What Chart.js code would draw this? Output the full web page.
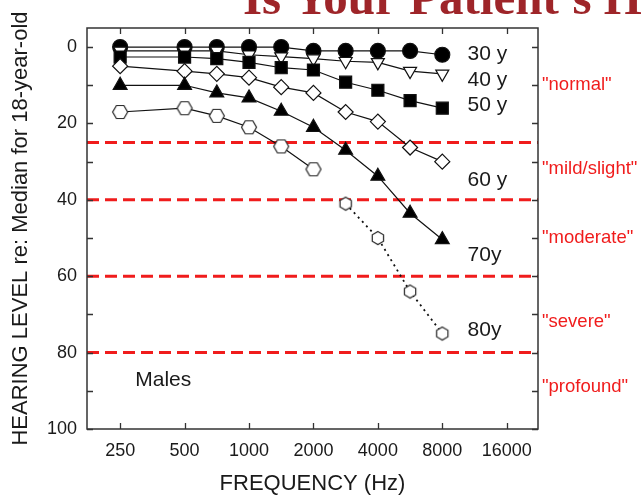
<!DOCTYPE html>
<html>
<head>
<meta charset="utf-8">
<title>Hearing level by age</title>
<script src="https://cdn.jsdelivr.net/npm/chart.js@4.4.1/dist/chart.umd.min.js"></script>
<style>
    html, body { margin: 0; padding: 0; background: #fff; }
    #divGraphHearing { width: 641px; height: 497px; }
</style>
</head>
<body>
<div id="divGraphHearing"><canvas id="canvGraphHearing" width="641" height="497"></canvas></div>
<script>
// frequencies (Hz) where the medians are plotted, and the axis tick labels
var freqs = [250, 500, 707, 1000, 1414, 2000, 2828, 4000, 5657, 8000];
var freqTicks = [250, 500, 1000, 2000, 4000, 8000, 16000];
var levelTicks = [0, 20, 40, 60, 80, 100];
var levelMarks = [0, 10, 20, 30, 40, 50, 60, 70, 80, 90, 100];

// hearing level (dB) re: median for 18-year-old, males
var hl30 = [0, 0, 0, 0, 0, 1, 1, 1, 1, 2];
var hl40 = [1, 1, 1, 2, 2.5, 3, 3.7, 4, 6.3, 7];
var hl50 = [2.6, 2.6, 3, 4, 5.4, 6, 9.2, 11.3, 14, 16];
var hl60 = [5, 6.3, 7, 8, 10.5, 12, 17, 19.5, 26.3, 30];
var hl70 = [10, 10, 12, 13.3, 16.8, 21, 27, 33.8, 43.5, 50.4];
var hl80 = [17, 16, 18, 21, 26, 32, 41, 50, 64, 75];

var ageLabels = ['30 y', '40 y', '50 y', '60 y', '70y', '80y'];
var ageLabelLevels = [1.8, 8.6, 15.2, 34.8, 54.5, 74];

var limitLevels = [25, 40, 60, 80];
var gradeNames = ['"normal"', '"mild/slight"', '"moderate"', '"severe"', '"profound"'];
var gradeLevels = [10, 32, 50, 72, 89];

var SANS = '"Liberation Sans", Arial, Helvetica, sans-serif';
var INK = '#1a1a1a';
var RED = '#f01c1c';
var X_MIN = 175, X_MAX = 22400;

var _chart;

function toPoints(values) {
    var pts = [];
    for (var i = 0; i < freqs.length; i++) {
        pts.push({x: freqs[i], y: values[i]});
    }
    return pts;
}

function makeHexagon(r, pointyTop) {
    var c = document.createElement('canvas');
    var s = Math.ceil(r * 2 + 3);
    c.width = s;
    c.height = s;
    var g = c.getContext('2d');
    g.beginPath();
    for (var i = 0; i < 6; i++) {
        var a = Math.PI / 3 * i + (pointyTop ? -Math.PI / 2 : 0);
        var px = s / 2 + r * Math.cos(a), py = s / 2 + r * Math.sin(a);
        if (i === 0) g.moveTo(px, py); else g.lineTo(px, py);
    }
    g.closePath();
    g.fillStyle = '#fff';
    g.fill();
    g.lineWidth = 1.2;
    g.strokeStyle = '#222';
    g.stroke();
    return c;
}

function series(label, values, style, radius, filled, rotation, order) {
    return {
        label: label,
        data: toPoints(values),
        borderColor: '#111',
        borderWidth: 1.2,
        pointStyle: style,
        pointRadius: radius,
        pointRotation: rotation,
        pointBackgroundColor: filled ? '#000' : '#fff',
        pointBorderColor: '#111',
        pointBorderWidth: 1.2,
        order: order
    };
}

function limitLine(level) {
    return {
        label: 'limit ' + level,
        data: [{x: X_MIN, y: level}, {x: X_MAX, y: level}],
        borderColor: RED,
        borderWidth: 3,
        borderDash: [12, 6],
        pointRadius: 0,
        order: 10
    };
}

var frameAndTextPlugin = {
    id: 'frameAndText',
    afterDraw: function (chart) {
        var ctx = chart.ctx, area = chart.chartArea;
        var xs = chart.scales.x, ys = chart.scales.y;
        ctx.save();

        // box + inward ticks
        ctx.strokeStyle = '#333';
        ctx.lineWidth = 1.5;
        ctx.strokeRect(area.left, area.top, area.right - area.left, area.bottom - area.top);
        ctx.lineWidth = 1.3;
        ctx.beginPath();
        freqTicks.forEach(function (f) {
            var px = Math.round(xs.getPixelForValue(f)) + 0.5;
            ctx.moveTo(px, area.bottom);
            ctx.lineTo(px, area.bottom - 6);
            ctx.moveTo(px, area.top);
            ctx.lineTo(px, area.top + 6);
        });
        levelMarks.forEach(function (v) {
            var py = Math.round(ys.getPixelForValue(v)) + 0.5;
            ctx.moveTo(area.left, py);
            ctx.lineTo(area.left + 6, py);
            ctx.moveTo(area.right, py);
            ctx.lineTo(area.right - 6, py);
        });
        ctx.stroke();

        // age labels and "Males"
        ctx.fillStyle = INK;
        ctx.textAlign = 'left';
        ctx.textBaseline = 'middle';
        ctx.font = '21px ' + SANS;
        ageLabels.forEach(function (t, i) {
            ctx.fillText(t, xs.getPixelForValue(10500), ys.getPixelForValue(ageLabelLevels[i]));
        });
        ctx.fillText('Males', xs.getPixelForValue(294), ys.getPixelForValue(87.2));

        // grade names on the right
        ctx.fillStyle = RED;
        ctx.font = '18.5px ' + SANS;
        gradeNames.forEach(function (t, i) {
            ctx.fillText(t, area.right + 4, ys.getPixelForValue(gradeLevels[i]));
        });

        // slide title, cut by the top edge
        ctx.fillStyle = '#9e2529';
        ctx.textBaseline = 'alphabetic';
        ctx.font = 'bold 49px "Liberation Serif", "Times New Roman", serif';
        ctx.fillText("Is Your Patient's H", 243, 14);

        ctx.restore();
    }
};

function buildChartHearing() {
    var datasets = [];
    limitLevels.forEach(function (lv) { datasets.push(limitLine(lv)); });

    datasets.push(series('30 y', hl30, 'circle', 7.5, true, 0, 6));
    datasets.push(series('40 y', hl40, 'triangle', 7.5, false, 180, 5));
    datasets.push(series('50 y', hl50, 'rect', 8.5, true, 0, 4));
    datasets.push(series('60 y', hl60, 'rectRot', 7.5, false, 0, 3));
    datasets.push(series('70y', hl70, 'triangle', 8, true, 0, 2));

    var hexFlat = makeHexagon(7.5, false), hexPointy = makeHexagon(6.5, true);
    var s80 = series('80y', hl80, 'circle', 7, false, 0, 1);
    s80.pointStyle = freqs.map(function (f, i) { return i <= 5 ? hexFlat : hexPointy; });
    s80.segment = {
        borderColor: function (c) { return c.p0DataIndex === 5 ? 'rgba(0,0,0,0)' : undefined; },
        borderDash: function (c) { return c.p0DataIndex >= 6 ? [2, 4] : undefined; },
        borderWidth: function (c) { return c.p0DataIndex >= 6 ? 1.8 : undefined; }
    };
    datasets.push(s80);

    var ctxHearing = document.getElementById('canvGraphHearing').getContext('2d');

    _chart = new Chart(ctxHearing, {
        type: 'line',
        data: {datasets: datasets},
        options: {
            responsive: false,
            animation: false,
            devicePixelRatio: 1,
            layout: {padding: {left: 0, top: 28, right: 103, bottom: 0}},
            plugins: {legend: {display: false}, tooltip: {enabled: false}},
            scales: {
                x: {
                    type: 'logarithmic',
                    min: X_MIN,
                    max: X_MAX,
                    afterBuildTicks: function (scale) {
                        scale.ticks = freqTicks.map(function (f) { return {value: f}; });
                    },
                    afterFit: function (scale) { scale.height = 68; },
                    grid: {display: false, drawTicks: false},
                    border: {display: false},
                    ticks: {
                        autoSkip: false,
                        maxRotation: 0,
                        padding: 11,
                        color: INK,
                        font: {family: SANS, size: 18},
                        callback: function (v) { return String(v); }
                    },
                    title: {
                        display: true,
                        text: 'FREQUENCY (Hz)',
                        color: INK,
                        font: {family: SANS, size: 22},
                        padding: {top: 0, bottom: 0}
                    }
                },
                y: {
                    type: 'linear',
                    reverse: true,
                    min: -5,
                    max: 100,
                    afterBuildTicks: function (scale) {
                        scale.ticks = levelTicks.map(function (v) { return {value: v}; });
                    },
                    afterFit: function (scale) { scale.width = 87; },
                    grid: {display: false, drawTicks: false},
                    border: {display: false},
                    ticks: {
                        padding: 10,
                        color: INK,
                        font: {family: SANS, size: 18}
                    },
                    title: {
                        display: true,
                        text: 'HEARING LEVEL re: Median for 18-year-old',
                        color: INK,
                        font: {family: SANS, size: 22},
                        padding: {top: 8, bottom: 0}
                    }
                }
            }
        },
        plugins: [frameAndTextPlugin]
    });
}

buildChartHearing();
</script>
</body>
</html>
